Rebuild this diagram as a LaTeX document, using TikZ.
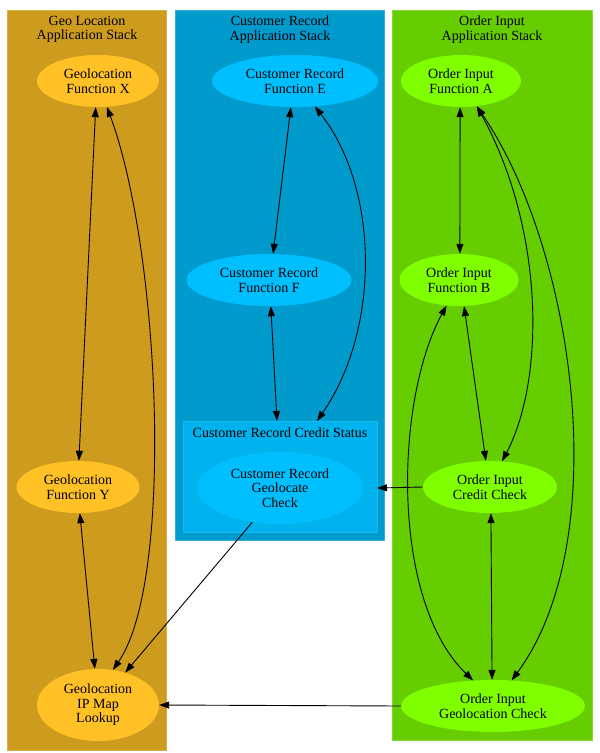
\documentclass[tikz,border=0pt]{standalone}
\usepackage{fontspec}
\setmainfont{Liberation Serif}
\usetikzlibrary{shapes.geometric,arrows.meta}
\definecolor{goldenrod3}{HTML}{CD9B1D}
\definecolor{goldenrod1}{HTML}{FFC125}
\definecolor{deepskyblue3}{HTML}{009ACD}
\definecolor{deepskyblue2}{HTML}{00B2EE}
\definecolor{deepskyblue1}{HTML}{00BFFF}
\definecolor{chartreuse3}{HTML}{66CD00}
\definecolor{chartreuse1}{HTML}{7FFF00}
\begin{document}
\begin{tikzpicture}[x=1pt, y=-1pt,
  every node/.style={font=\fontsize{14}{14.5}\selectfont, align=center},
  fn/.style={ellipse, inner sep=0pt, minimum height=52pt},
  geofn/.style={fn, fill=goldenrod1},
  crfn/.style={fn, fill=deepskyblue1},
  oifn/.style={fn, fill=chartreuse1},
  bidir/.style={line width=0.9pt, {Triangle[length=10pt,width=7pt]}-{Triangle[length=10pt,width=7pt]}},
  uni/.style={line width=0.9pt, -{Triangle[length=10pt,width=7pt]}}]
\useasboundingbox (0,0) rectangle (600,753);
% geo location stack
\filldraw[fill=goldenrod3, draw=goldenrod3!80!white] (7.5,10.5) rectangle (166.5,750);
\node (geoTitle) at (87,29.5) {Geo Location\\Application Stack};
% customer record stack
\filldraw[fill=deepskyblue3, draw=deepskyblue3!80!white] (175.5,10.5) rectangle (384.5,540);
\node (crTitle) at (280,29.5) {Customer Record\\Application Stack};
% credit status
\filldraw[fill=deepskyblue2, draw=deepskyblue2!90!white] (183,421) rectangle (377,532);
\node (csTitle) at (280,433) {Customer Record Credit Status};
% order input stack
\filldraw[fill=chartreuse3, draw=chartreuse3!80!white] (392,10.5) rectangle (592.5,740);
\node (oiTitle) at (492,29.5) {Order Input\\Application Stack};
% functions
\node[geofn, minimum width=122pt] (geoX) at (98,81) {Geolocation\\Function X};
\node[geofn, minimum width=123pt] (geoY) at (78,487) {Geolocation\\Function Y};
\node[geofn, minimum width=122pt, minimum height=72pt] (geoIP) at (98,705) {Geolocation\\IP Map\\Lookup};
\node[crfn, minimum width=166pt] (crE) at (295,81) {Customer Record\\Function E};
\node[crfn, minimum width=165pt] (crF) at (269,280) {Customer Record\\Function F};
\node[crfn, minimum width=166pt, minimum height=72pt] (crGeo) at (280,488) {Customer Record\\Geolocate\\Check};
\node[oifn, minimum width=120pt] (oiA) at (461,81) {Order Input\\Function A};
\node[oifn, minimum width=119pt] (oiB) at (459,280) {Order Input\\Function B};
\node[oifn, minimum width=134pt] (oiCredit) at (490,487) {Order Input\\Credit Check};
\node[oifn, minimum width=184pt] (oiGeo) at (493,706) {Order Input\\Geolocation Check};
% ends on the credit status box
\coordinate (csTopF) at (277,421);
\coordinate (csTopE) at (317,421);
\coordinate (csEast) at (377,488);
% calls
\draw[bidir] (geoX.265) -- (geoY.88);
\draw[bidir] (geoX.289) .. controls (160,250) and (175,580) .. (geoIP.67);
\draw[bidir] (geoY.274) -- (geoIP.95);
\draw[uni] (crGeo.231) -- (geoIP.50);
\draw[bidir] (crE.261) -- (crF.81);
\draw[bidir] (crE.308) .. controls (380,190) and (380,330) .. (csTopE);
\draw[bidir] (crF.274) -- (csTopF);
\draw[uni] (oiCredit.west) -- (csEast);
\draw[bidir] (oiA.268) -- (oiB.88);
\draw[bidir] (oiA.302) .. controls (545,230) and (545,380) .. (oiCredit.65);
\draw[bidir] (oiA.302) .. controls (575,250) and (615,540) .. (oiGeo.54);
\draw[bidir] (oiB.281) -- (oiCredit.99);
\draw[bidir] (oiB.244) .. controls (395,400) and (390,600) .. (oiGeo.128);
\draw[bidir] (oiCredit.272) -- (oiGeo.92);
\draw[uni] (oiGeo.west) -- (geoIP.east);
\end{tikzpicture}
\end{document}
